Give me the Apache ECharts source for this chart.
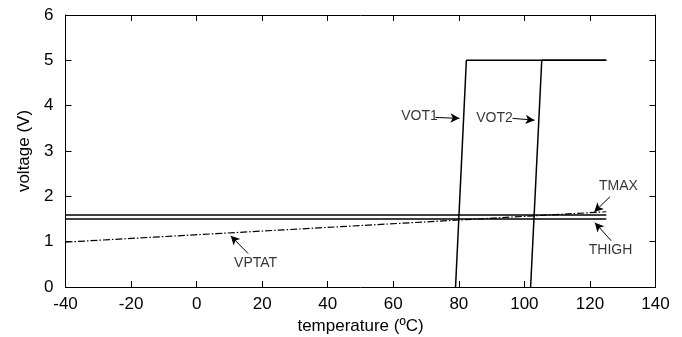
<!DOCTYPE html>
<html><head><meta charset="utf-8">
<script src="https://cdn.jsdelivr.net/npm/echarts@6/dist/echarts.min.js"></script>
<style>html,body{margin:0;padding:0;background:#fff}#c{width:682px;height:337px}</style>
</head><body><div id="c"></div>
<script>
// temperature (ºC) / voltage (V) points
const vot1X = [79, 82.3, 90, 125];
const vot1Y = [0, 5.0, 5.0, 5.0];
const vot2X = [101.9, 105.3, 125];
const vot2Y = [0, 5.0, 5.0];
const tmaxX = [-40, 125];
const tmaxY = [1.59, 1.59];
const thighX = [-40, 125];
const thighY = [1.50, 1.50];
const vptatX = [-40, 125];
const vptatY = [0.99, 1.66];
// annotations: text, text position, arrow start, arrow tip (data units)
const notes = [
  {text: 'VOT1',  tx: 68.0,  ty: 3.76, x1: 72.9,  y1: 3.74, x2: 80.2,  y2: 3.72},
  {text: 'VOT2',  tx: 90.9,  ty: 3.72, x1: 96.4,  y1: 3.72, x2: 103.1, y2: 3.68},
  {text: 'TMAX',  tx: 128.7, ty: 2.23, x1: 126.1, y1: 1.99, x2: 121.3, y2: 1.655},
  {text: 'THIGH', tx: 126.3, ty: 0.81, x1: 126.5, y1: 1.02, x2: 121.5, y2: 1.42},
  {text: 'VPTAT', tx: 18.0,  ty: 0.52, x1: 15.7,  y1: 0.74, x2: 10.4,  y2: 1.13}
];
const xTicks = {min: -40, max: 140, interval: 20};
const yTicks = {min: 0, max: 6, interval: 1};

const zip = (xs, ys) => xs.map((x, i) => [x, ys[i]]);
const font = 'Liberation Sans';
const axisLine = {show: true, onZero: false, lineStyle: {color: '#000', width: 1}};
const tick = {show: true, inside: true, length: 6, lineStyle: {color: '#000'}};
const solid = {color: '#000', width: 1.5};

const chart = echarts.init(document.getElementById('c'), null, {renderer: 'canvas'});
chart.setOption({
  animation: false,
  grid: {left: 65.5, right: 26.5, top: 15, bottom: 50, containLabel: false, outerBoundsMode: 'none'},
  xAxis: [
    {type: 'value', ...xTicks, name: 'temperature (ºC)', nameLocation: 'middle', nameGap: 30,
     nameTextStyle: {color: '#000', fontSize: 17, fontFamily: font},
     axisLine, axisTick: tick, splitLine: {show: false},
     axisLabel: {color: '#000', fontSize: 17, fontFamily: font, margin: 9}},
    {type: 'value', position: 'top', ...xTicks, axisLine, axisTick: tick,
     splitLine: {show: false}, axisLabel: {show: false}}
  ],
  yAxis: [
    {type: 'value', ...yTicks, name: 'voltage (V)', nameLocation: 'middle', nameGap: 32,
     nameTextStyle: {color: '#000', fontSize: 17, fontFamily: font},
     axisLine, axisTick: tick, splitLine: {show: false},
     axisLabel: {color: '#000', fontSize: 17, fontFamily: font, margin: 12}},
    {type: 'value', position: 'right', ...yTicks, axisLine, axisTick: tick,
     splitLine: {show: false}, axisLabel: {show: false}}
  ],
  series: [
    {type: 'line', data: zip(vot1X, vot1Y), showSymbol: false, lineStyle: solid, z: 3},
    {type: 'line', data: zip(vot2X, vot2Y), showSymbol: false, lineStyle: solid, z: 3},
    {type: 'line', data: zip(tmaxX, tmaxY), showSymbol: false, lineStyle: solid},
    {type: 'line', data: zip(thighX, thighY), showSymbol: false, lineStyle: solid},
    {type: 'line', data: zip(vptatX, vptatY), showSymbol: false,
     lineStyle: {color: '#000', width: 1.2, type: [7, 2, 1.5, 2]}},
    {type: 'scatter', data: notes.map(n => [n.tx, n.ty]), symbolSize: 0, silent: true,
     label: {show: true, position: 'inside', color: '#000', fontSize: 14, fontFamily: font,
       formatter: p => notes[p.dataIndex].text}},
    {type: 'line', data: [], silent: true,
     markLine: {silent: true, symbol: ['none', 'arrow'], symbolSize: [7, 9],
       lineStyle: {color: '#000', width: 1, type: 'solid'}, label: {show: false},
       data: notes.map(n => [{coord: [n.x1, n.y1]}, {coord: [n.x2, n.y2]}])}}
  ]
});
</script></body></html>
